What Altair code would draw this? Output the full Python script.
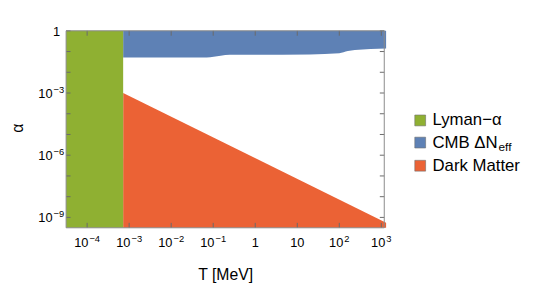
import altair as alt
import pandas as pd

# ---- data ----
x_ticks = [1e-4, 1e-3, 1e-2, 1e-1, 1, 10, 100, 1000]
x_label_base = ["10", "10", "10", "10", "1", "10", "10", "10"]
x_label_exp = ["−4", "−3", "−2", "−1", "", "", "2", "3"]
y_ticks = [1e-9, 1e-8, 1e-7, 1e-6, 1e-5, 1e-4, 1e-3, 1e-2, 1e-1, 1]
y_label_values = [1e-9, 1e-6, 1e-3, 1]
y_label_base = ["10", "10", "10", "1"]
y_label_exp = ["−9", "−6", "−3", ""]

T_MIN = 10 ** -4.5
T_MAX = 10 ** 3.07
A_MIN = 10 ** -9.5
A_MAX = 1.0

lyman_T = [T_MIN, 7.2e-4]
cmb_T = [7.2e-4, 0.07, 0.15, 0.25, 20, 100, 160, 234, 1300]
cmb_alpha = [0.051, 0.051, 0.062, 0.069, 0.072, 0.082, 0.105, 0.119, 0.142]
dm_T = [7.2e-4, 1300]
dm_alpha = [1e-3, 5.5e-10]

legend_labels = ["Lyman−α", "CMB ΔN", "Dark Matter"]
legend_sub = "eff"
colors = ["#8FB032", "#5E81B5", "#EB6235"]

FONT = "Liberation Sans"
W, H = 323, 200
BASE_FS, EXP_FS = 13, 9.5

xs = alt.Scale(type="log", domain=[T_MIN, T_MAX], nice=False)
ys = alt.Scale(type="log", domain=[A_MIN, A_MAX], nice=False)

x_axis = alt.Axis(labels=False, ticks=False, tickSize=0, domain=False, grid=False,
                  title="T [MeV]", titleFont=FONT, titleFontSize=16, titleFontWeight="normal",
                  titleColor="black", titleX=W / 2, titleY=52, titleAlign="center",
                  titleBaseline="alphabetic")
y_axis = alt.Axis(labels=False, ticks=False, tickSize=0, domain=False, grid=False,
                  title="α", titleFont=FONT, titleFontSize=16, titleFontWeight="normal",
                  titleColor="black", titleX=-44.5, titleY=98.5, titleAngle=270,
                  titleAlign="center", titleBaseline="alphabetic")


def X(field="T"):
    return alt.X(f"{field}:Q", scale=xs, axis=x_axis)


def Y(field="alpha"):
    return alt.Y(f"{field}:Q", scale=ys, axis=y_axis)


cmb_df = pd.DataFrame({"T": cmb_T, "alpha": cmb_alpha, "alpha2": [A_MAX] * len(cmb_T)})
dm_df = pd.DataFrame({"T": dm_T, "alpha": dm_alpha, "alpha2": [A_MIN] * len(dm_T)})
ly_df = pd.DataFrame({"T": [lyman_T[0]], "T2": [lyman_T[1]], "alpha": [A_MIN], "alpha2": [A_MAX]})

cmb = alt.Chart(cmb_df).mark_area(color=colors[1], opacity=1, interpolate="monotone").encode(
    x=X(), y=Y(), y2="alpha2:Q")
dm = alt.Chart(dm_df).mark_area(color=colors[2], opacity=1).encode(
    x=X(), y=Y(), y2="alpha2:Q")
ly = alt.Chart(ly_df).mark_rect(color=colors[0], opacity=1).encode(
    x=X(), x2="T2:Q", y=Y(), y2="alpha2:Q")

xt_df = pd.DataFrame({"T": x_ticks})
yt_df = pd.DataFrame({"alpha": y_ticks})
TICK = "#6a6a6a"
bt = alt.Chart(xt_df).mark_rule(color=TICK, strokeWidth=1).encode(
    x=X(), y=alt.value(H), y2=alt.value(H - 5))
tt = alt.Chart(xt_df).mark_rule(color=TICK, strokeWidth=1).encode(
    x=X(), y=alt.value(0), y2=alt.value(5))
lt = alt.Chart(yt_df).mark_rule(color=TICK, strokeWidth=1).encode(
    y=Y(), x=alt.value(0), x2=alt.value(4.5))
rt = alt.Chart(yt_df).mark_rule(color=TICK, strokeWidth=1).encode(
    y=Y(), x=alt.value(W), x2=alt.value(W - 4.5))

one = pd.DataFrame({"k": [0]})
frame = alt.Chart(one).mark_rect(fill=None, stroke="#8a8a8a", strokeWidth=1).encode(
    x=alt.value(0), x2=alt.value(W), y=alt.value(0), y2=alt.value(H))

# ---- tick labels as base + exponent text ----
xl = pd.DataFrame({"T": x_ticks, "base": x_label_base, "exp": x_label_exp})
neg = xl[xl["exp"].str.startswith("−")]
pos = xl[(xl["exp"] != "") & ~xl["exp"].str.startswith("−")]
plain = xl[xl["exp"] == ""]

XLAB_Y = H + 20
EXP_RAISE = 5.5


def x_label_layers(df, base_dx, exp_dx):
    base = alt.Chart(df).mark_text(font=FONT, fontSize=BASE_FS, align="right", baseline="alphabetic",
                                   dx=base_dx, color="black").encode(
        x=X(), y=alt.value(XLAB_Y), text="base:N")
    ex = alt.Chart(df).mark_text(font=FONT, fontSize=EXP_FS, align="left", baseline="alphabetic",
                                 dx=exp_dx, color="black").encode(
        x=X(), y=alt.value(XLAB_Y - EXP_RAISE), text="exp:N")
    return [base, ex]


xlabels = []
xlabels += x_label_layers(neg, 1.3, 2.3)
xlabels += x_label_layers(pos, 4.1, 5.1)
xlabels.append(alt.Chart(plain).mark_text(font=FONT, fontSize=BASE_FS, align="center",
                                          baseline="alphabetic", color="black").encode(
    x=X(), y=alt.value(XLAB_Y), text="base:N"))

yl = pd.DataFrame({"alpha": y_label_values, "base": y_label_base, "exp": y_label_exp})
yneg = yl[yl["exp"] != ""]
yplain = yl[yl["exp"] == ""]
ylabels = [
    alt.Chart(yneg).mark_text(font=FONT, fontSize=BASE_FS, align="right", baseline="alphabetic",
                              dx=-13.8, dy=5, color="black").encode(
        y=Y(), x=alt.value(0), text="base:N"),
    alt.Chart(yneg).mark_text(font=FONT, fontSize=EXP_FS, align="right", baseline="alphabetic",
                              dx=-2, dy=5 - EXP_RAISE, color="black").encode(
        y=Y(), x=alt.value(0), text="exp:N"),
    alt.Chart(yplain).mark_text(font=FONT, fontSize=BASE_FS, align="right", baseline="alphabetic",
                                dx=-6, dy=5, color="black").encode(
        y=Y(), x=alt.value(0), text="base:N"),
]

legend_layers = []
row_y = [91, 113.5, 137]
for i in range(3):
    legend_layers.append(
        alt.Chart(one).mark_rect(fill=colors[i], stroke="#707070", strokeWidth=0.6).encode(
            x=alt.value(354), x2=alt.value(365),
            y=alt.value(row_y[i] - 5.5), y2=alt.value(row_y[i] + 5.5))
    )
    legend_layers.append(
        alt.Chart(one).mark_text(text=legend_labels[i], font=FONT, fontSize=17, align="left",
                                 baseline="middle", color="black").encode(
            x=alt.value(372), y=alt.value(row_y[i]))
    )
legend_layers.append(
    alt.Chart(one).mark_text(text=legend_sub, font=FONT, fontSize=12, align="left",
                             baseline="middle", color="black").encode(
        x=alt.value(439), y=alt.value(row_y[1] + 4.5))
)

chart = alt.layer(cmb, dm, ly, bt, tt, lt, rt, frame, *xlabels, *ylabels, *legend_layers).properties(
    width=W, height=H,
    autosize=alt.AutoSizeParams(type="none"),
    padding={"left": 59, "top": 21, "right": 150, "bottom": 60},
).configure_view(stroke=None)

chart.save("out.html", embed_options={"renderer": "svg", "actions": False})
